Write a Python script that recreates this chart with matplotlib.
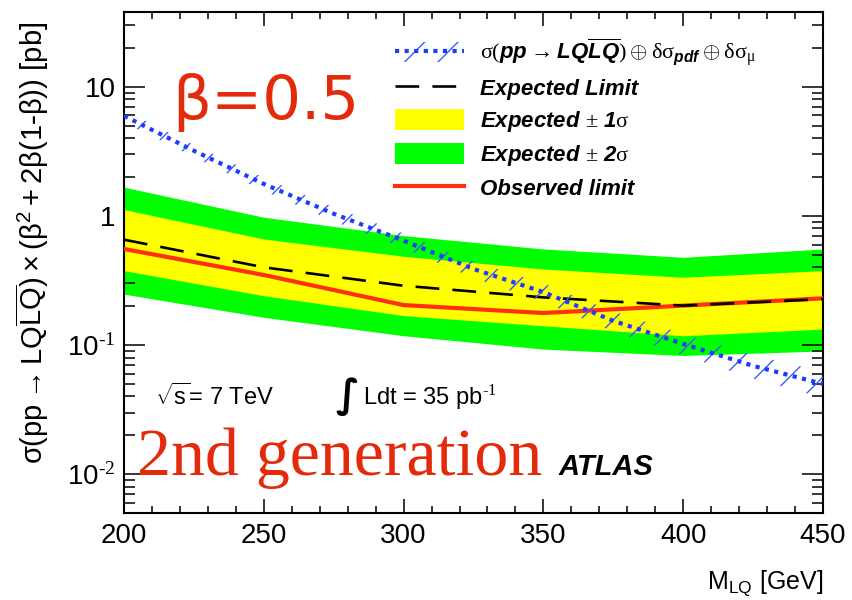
import matplotlib
matplotlib.use("Agg")
import matplotlib.pyplot as plt
from matplotlib.lines import Line2D
from matplotlib.patches import Patch
from matplotlib.ticker import FuncFormatter, LogLocator, MultipleLocator

# LQ mass points of the limit scan [GeV]
mass = [200, 250, 300, 350, 400, 450]
exp_limit = [0.655, 0.40, 0.288, 0.234, 0.202, 0.227]
obs_limit = [0.555, 0.349, 0.204, 0.177, 0.202, 0.23]
exp_1s_up = [1.12, 0.663, 0.487, 0.388, 0.335, 0.377]
exp_1s_dn = [0.377, 0.241, 0.169, 0.141, 0.118, 0.133]
exp_2s_up = [1.67, 0.977, 0.704, 0.555, 0.478, 0.555]
exp_2s_dn = [0.248, 0.164, 0.118, 0.093, 0.083, 0.090]

# NLO theory cross section x BR and its pdf + scale band [pb]
theory_mass = [200, 225, 250, 275, 300, 325, 350, 375, 400, 425, 450]
theory_xs = [5.96, 3.2, 1.77, 1.04, 0.644, 0.388, 0.257, 0.154, 0.102, 0.069, 0.05]
theory_up = [6.6, 3.55, 1.98, 1.17, 0.73, 0.445, 0.30, 0.182, 0.122, 0.084, 0.062]
theory_dn = [5.3, 2.85, 1.56, 0.91, 0.56, 0.332, 0.215, 0.127, 0.083, 0.055, 0.039]

y_tick_labels = {0.01: r"$\mathdefault{10^{\text{-2}}}$", 0.1: r"$\mathdefault{10^{\text{-1}}}$",
                 1: "1", 10: "10"}

plt.rcParams["font.family"] = ["Liberation Sans", "DejaVu Sans"]
plt.rcParams["mathtext.fontset"] = "custom"
plt.rcParams["mathtext.rm"] = "Liberation Serif"
plt.rcParams["mathtext.it"] = "Liberation Sans:italic:bold"
plt.rcParams["mathtext.sf"] = "Liberation Sans"
plt.rcParams["hatch.linewidth"] = 1.0

RED = "#e32b0c"
BLUE = "#1c3cff"
HATCH_BLUE = "#3a5cff"

fig = plt.figure(figsize=(8.52, 6.0), dpi=100)
ax = fig.add_axes([124 / 852, 87 / 600, 699 / 852, 501 / 600])

ax.fill_between(mass, exp_2s_dn, exp_2s_up, color="#00ff00", linewidth=0, zorder=1)
ax.fill_between(mass, exp_1s_dn, exp_1s_up, color="#ffff00", linewidth=0, zorder=2)
ax.plot(mass, obs_limit, color="#ff3010", lw=3.0, zorder=3)
ax.plot(mass, exp_limit, color="black", lw=1.9, linestyle=(0, (9, 5)), zorder=4)
ax.fill_between(theory_mass, theory_dn, theory_up, facecolor="none", edgecolor=HATCH_BLUE,
                hatch="/", linewidth=0, zorder=5)
ax.plot(theory_mass, theory_xs, color=BLUE, lw=3.0, linestyle=(0, (1, 1.3)),
        dash_capstyle="butt", zorder=6)

ax.set_yscale("log")
ax.set_xlim(200, 450)
ax.set_ylim(0.005, 38)

ax.xaxis.set_major_locator(MultipleLocator(50))
ax.xaxis.set_minor_locator(MultipleLocator(10))
ax.yaxis.set_major_locator(LogLocator(base=10, subs=[1.0]))
ax.yaxis.set_minor_locator(LogLocator(base=10, subs=range(2, 10)))
ax.yaxis.set_major_formatter(FuncFormatter(lambda v, pos: y_tick_labels.get(round(v, 4), "")))
ax.yaxis.set_minor_formatter(FuncFormatter(lambda v, pos: ""))

ax.tick_params(axis="both", which="both", direction="in", top=True, right=True, width=1.1)
ax.tick_params(axis="x", which="major", length=10, labelsize=20, pad=7)
ax.tick_params(axis="x", which="minor", length=5)
ax.tick_params(axis="y", which="major", length=15, labelsize=20, pad=6)
ax.tick_params(axis="y", which="minor", length=8)
for sp in ax.spines.values():
    sp.set_linewidth(1.5)

ax.set_xlabel(r"M$_{\mathregular{LQ}}$ [GeV]", fontsize=18, loc="right", labelpad=14)
fig.text(0.038, 1 - 22 / 600,
         r"$\mathsf{\sigma(pp \rightarrow LQ\overline{LQ}) \times (\beta^2+2\beta(1\text{-}\beta))\ [pb]}$",
         rotation=90, ha="center", va="top", fontsize=21)

# annotations inside the frame
ax.text(0.069, 0.786, "β=0.5", transform=ax.transAxes, color=RED, fontsize=44,
        family="DejaVu Sans", ha="left", va="baseline")
ax.text(0.019, 0.076, "2nd generation", transform=ax.transAxes, color=RED, fontsize=49,
        family="Liberation Serif", ha="left", va="baseline")
ax.text(0.622, 0.076, "ATLAS", transform=ax.transAxes, fontsize=21, fontweight="bold",
        fontstyle="italic", ha="left", va="baseline")
ax.text(0.044, 0.216, r"$\sqrt{\mathsf{s}}$= 7 TeV", transform=ax.transAxes, fontsize=17,
        ha="left", va="baseline")
ax.text(0.302, 0.211, "∫", transform=ax.transAxes, fontsize=28, fontweight="bold",
        family="DejaVu Sans", ha="left", va="baseline")
ax.text(0.342, 0.216, r"Ldt = 35 pb$^{\text{-1}}$", transform=ax.transAxes, fontsize=17,
        ha="left", va="baseline")

# legend
theory_handle = (Patch(facecolor="none", edgecolor=HATCH_BLUE, hatch="/", linewidth=0),
                 Line2D([], [], color=BLUE, lw=3.0, linestyle=(0, (1, 1.3)), dash_capstyle="butt"))
handles = [
    theory_handle,
    Line2D([], [], color="black", lw=1.9, linestyle=(0, (9, 5))),
    Patch(facecolor="#ffff00", edgecolor="none"),
    Patch(facecolor="#00ff00", edgecolor="none"),
    Line2D([], [], color="#ff3010", lw=3.0),
]
labels = [
    r"$\mathrm{\sigma}\mathit{(pp} \rightarrow \mathit{LQ\overline{LQ})} \oplus \mathrm{\delta\sigma}_{\mathit{pdf}} \oplus \mathrm{\delta\sigma_{\mu}}$",
    "Expected Limit",
    r"Expected $\pm$ 1$\mathrm{\sigma}$",
    r"Expected $\pm$ 2$\mathrm{\sigma}$",
    "Observed limit",
]
leg = ax.legend(handles, labels, loc="upper left", bbox_to_anchor=(0.388, 0.95),
                frameon=False, borderpad=0, borderaxespad=0, handlelength=3.1,
                handleheight=1.05, handletextpad=0.7, labelspacing=0.4,
                prop={"family": "Liberation Sans", "weight": "bold", "style": "italic", "size": 16})

plt.savefig("out.png", dpi=100)
